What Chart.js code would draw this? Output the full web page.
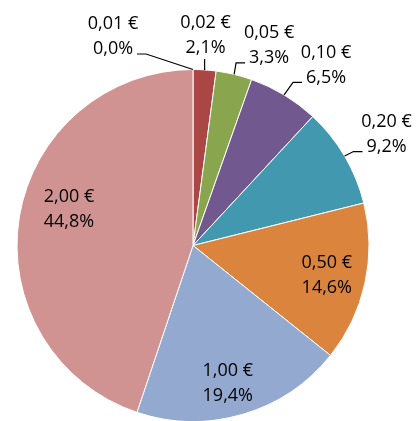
<!DOCTYPE html>
<html>
<head>
<meta charset="utf-8">
<script src="https://cdn.jsdelivr.net/npm/chart.js@4/dist/chart.umd.min.js"></script>
<style>
  html, body { margin: 0; padding: 0; background: #fff; }
  #wrap { width: 417px; height: 421px; }
</style>
</head>
<body>
<div id="wrap"><canvas id="coinChart" width="417" height="421"></canvas></div>
<script>
// coin denominations and their share (%)
const coins = ['0,01 €', '0,02 €', '0,05 €', '0,10 €', '0,20 €', '0,50 €', '1,00 €', '2,00 €'];
const shares = [0.0, 2.1, 3.3, 6.5, 9.2, 14.6, 19.4, 44.8];
const colors = ['#4572A7', '#AA4643', '#89A54E', '#71588F', '#4198AF', '#DB843D', '#93A9CF', '#D19392'];

// where each label sits: outside ones relative to the slice edge, inside ones relative to 0.72 R
const labelPlace = [
  { inside: false, dx: -80, dy: -33 },
  { inside: false, dx: 1, dy: -35 },
  { inside: false, dx: 35, dy: -29 },
  { inside: false, dx: 42, dy: -30 },
  { inside: false, dx: 42, dy: -22 },
  { inside: true, dx: 10, dy: 3 },
  { inside: true, dx: -1, dy: 16 },
  { inside: true, dx: 1, dy: -16 }
];

const LINE_GAP = 25;

function pct(v) {
  return v.toFixed(1).replace('.', ',') + '%';
}

const sliceLabels = {
  id: 'sliceLabels',
  afterDatasetsDraw(chart) {
    const ctx = chart.ctx;
    const meta = chart.getDatasetMeta(0);
    ctx.save();
    ctx.font = '18px "Open Sans"';
    ctx.fillStyle = '#000';
    ctx.strokeStyle = '#000';
    ctx.lineWidth = 1.2;
    ctx.textAlign = 'center';
    ctx.textBaseline = 'middle';
    meta.data.forEach((arc, i) => {
      const p = arc.getProps(['x', 'y', 'startAngle', 'endAngle', 'outerRadius'], true);
      const mid = (p.startAngle + p.endAngle) / 2;
      const lines = [coins[i], pct(shares[i])];
      const place = labelPlace[i];
      let cx, cy;
      if (place.inside) {
        const r = p.outerRadius * 0.72;
        cx = p.x + Math.cos(mid) * r + place.dx;
        cy = p.y + Math.sin(mid) * r + place.dy;
      } else {
        const ex = p.x + Math.cos(mid) * p.outerRadius;
        const ey = p.y + Math.sin(mid) * p.outerRadius;
        cx = ex + place.dx;
        cy = ey + place.dy;
        ctx.beginPath();
        ctx.moveTo(ex, ey);
        if (Math.abs(place.dx) < 10) {
          ctx.lineTo(ex, cy + LINE_GAP / 2 + 11.5);
        } else {
          const side = place.dx > 0 ? -1 : 1;
          const w2 = ctx.measureText(lines[1]).width;
          const tx = cx + side * (w2 / 2 + 4);
          const ly = cy + LINE_GAP / 2 + 5;
          ctx.lineTo(tx + side * 9, ly);
          ctx.lineTo(tx, ly);
        }
        ctx.stroke();
      }
      ctx.fillText(lines[0], cx, cy - LINE_GAP / 2);
      ctx.fillText(lines[1], cx, cy + LINE_GAP / 2);
    });
    ctx.restore();
  }
};

new Chart(document.getElementById('coinChart'), {
  type: 'pie',
  data: {
    labels: coins,
    datasets: [{
      data: shares,
      backgroundColor: colors,
      borderColor: '#ffffff',
      borderWidth: 1,
      hoverOffset: 0,
      radius: 176
    }]
  },
  options: {
    responsive: false,
    animation: false,
    layout: { padding: { left: 16, right: 47, top: 70, bottom: 0 } },
    plugins: {
      legend: { display: false },
      tooltip: { enabled: false }
    }
  },
  plugins: [sliceLabels]
});
</script>
</body>
</html>
